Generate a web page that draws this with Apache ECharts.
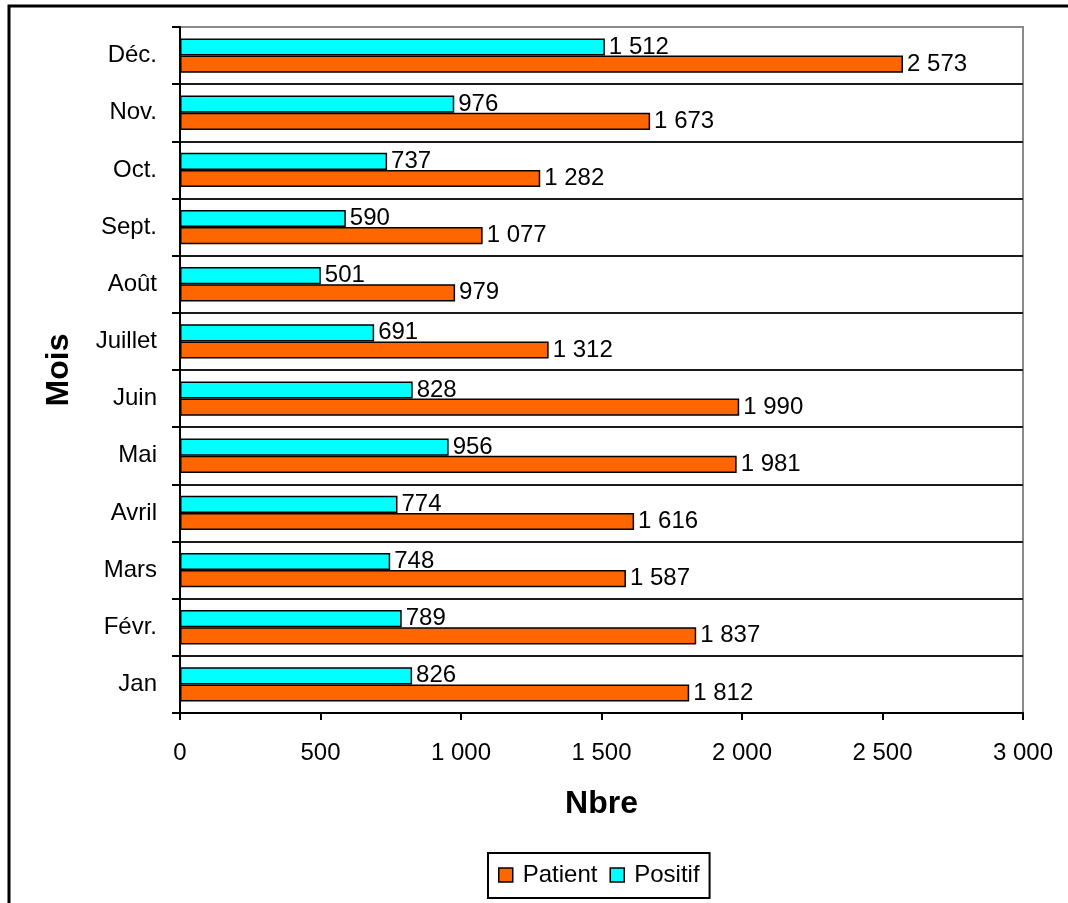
<!DOCTYPE html>
<html>
<head>
<meta charset="utf-8">
<script src="https://cdn.jsdelivr.net/npm/echarts@6/dist/echarts.min.js"></script>
<style>
    html, body { margin: 0; padding: 0; background: #fff; }
    #chart { width: 1068px; height: 903px; }
</style>
</head>
<body>
<div id="chart"></div>
<script>
// mois, du bas vers le haut
const mois = ['Jan', 'Févr.', 'Mars', 'Avril', 'Mai', 'Juin', 'Juillet', 'Août', 'Sept.', 'Oct.', 'Nov.', 'Déc.']
const patient = [1812, 1837, 1587, 1616, 1981, 1990, 1312, 979, 1077, 1282, 1673, 2573]
const positif = [826, 789, 748, 774, 956, 828, 691, 501, 590, 737, 976, 1512]
const xTicks = [0, 500, 1000, 1500, 2000, 2500, 3000]

const font = 'Liberation Sans, Arial, sans-serif'

// 1 512 style
const fmt = function (v) {
    return String(v).replace(/\B(?=(\d{3})+(?!\d))/g, ' ')
}

// couleurs des lignes de grille, le haut en gris
const gridColors = ['#8a8a8a']
for (let i = 0; i < 11; i++) {
    gridColors.push('#1a1a1a')
}

const barSeries = function (name, data, color) {
    return {
        name: name,
        type: 'bar',
        data: data,
        barGap: '0%',
        barCategoryGap: '40%',
        itemStyle: {
            color: color,
            borderColor: '#000',
            borderWidth: 1.5,
        },
        label: {
            show: true,
            position: 'right',
            distance: 4,
            color: '#000',
            fontFamily: font,
            fontSize: 24,
            formatter: p => fmt(p.value),
        },
    }
}

const chart = echarts.init(document.getElementById('chart'))
chart.setOption({
    animation: false,
    backgroundColor: '#fff',
    graphic: [
        {
            type: 'polyline',
            shape: { points: [[9, 910], [9, 6], [1080, 6]] },
            style: { stroke: '#000', lineWidth: 3, fill: null },
        },
        {
            type: 'polyline',
            shape: { points: [[180, 27], [1023, 27], [1023, 713]] },
            style: { stroke: '#8a8a8a', lineWidth: 2, fill: null },
            z: 0,
        },
    ],
    grid: {
        left: 180,
        right: 45,
        top: 27,
        bottom: 190,
    },
    legend: {
        data: ['Patient', 'Positif'],
        left: 488,
        top: 853,
        itemWidth: 14,
        itemHeight: 14,
        itemGap: 12,
        padding: [10, 10, 11, 10],
        borderColor: '#000',
        borderWidth: 2,
        borderRadius: 0,
        icon: 'rect',
        itemStyle: { borderColor: '#000', borderWidth: 1.5 },
        textStyle: { fontFamily: font, fontSize: 24, color: '#000', padding: [0, 0, 0, 5] },
    },
    xAxis: {
        type: 'value',
        min: xTicks[0],
        max: xTicks[xTicks.length - 1],
        interval: 500,
        name: 'Nbre',
        nameLocation: 'middle',
        nameGap: 75,
        nameTextStyle: { fontFamily: font, fontSize: 32, fontWeight: 'bold', color: '#000' },
        axisLine: { show: true, lineStyle: { color: '#000', width: 2 } },
        axisTick: { show: true, length: 7, lineStyle: { color: '#000', width: 2 } },
        axisLabel: {
            margin: 28,
            fontFamily: font,
            fontSize: 24,
            color: '#000',
            formatter: v => fmt(v),
        },
        splitLine: { show: false },
    },
    yAxis: {
        type: 'category',
        data: mois,
        name: 'Mois',
        nameLocation: 'middle',
        nameRotate: 90,
        nameGap: 105,
        nameTextStyle: { fontFamily: font, fontSize: 32, fontWeight: 'bold', color: '#000' },
        axisLine: { show: true, lineStyle: { color: '#000', width: 2 } },
        axisTick: { show: true, length: 8, lineStyle: { color: '#000', width: 2 } },
        axisLabel: {
            margin: 23,
            fontFamily: font,
            fontSize: 24,
            color: '#000',
        },
        splitLine: { show: true, lineStyle: { color: gridColors, width: 2 } },
    },
    // le premier est dessiné en haut de chaque groupe
    series: [
        barSeries('Positif', positif, '#00ffff'),
        barSeries('Patient', patient, '#ff6600'),
    ],
})
</script>
</body>
</html>
